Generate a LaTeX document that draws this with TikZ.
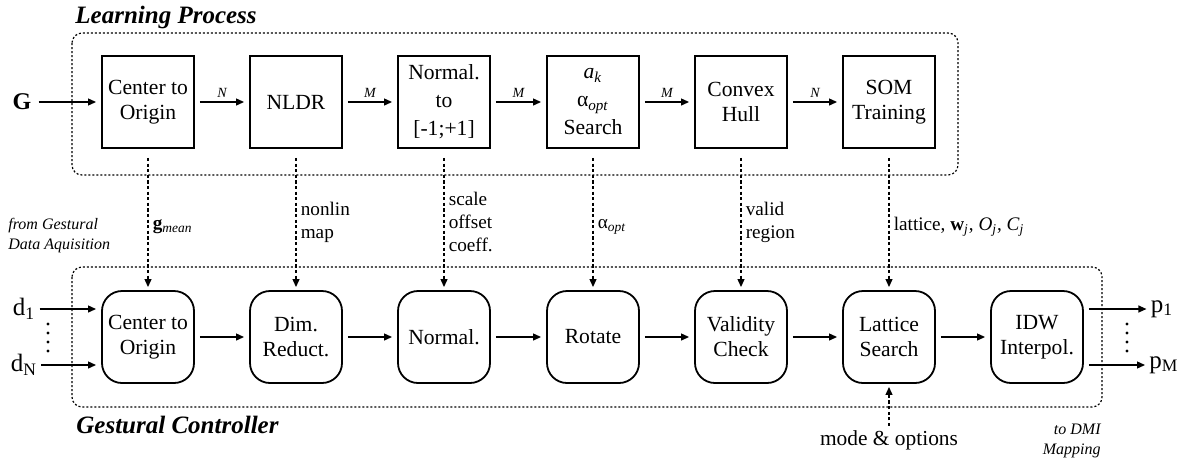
\documentclass[tikz,border=0pt]{standalone}
\usepackage{fontspec}
\setmainfont{Liberation Serif}
\usetikzlibrary{arrows.meta}

\begin{document}
\begin{tikzpicture}[x=0.5pt, y=-0.5pt,
    learnbox/.style={rectangle, draw=black, line width=0.9pt, minimum width=46pt, minimum height=46pt, inner sep=1pt, align=center, font=\fontsize{10.8}{12.6}\selectfont},
    ctrlbox/.style={learnbox, rounded corners=10pt},
    flow/.style={-{Triangle[length=4pt,width=3.4pt]}, line width=0.8pt, shorten <=2.5pt, shorten >=2.5pt},
    param/.style={flow, dash pattern=on 1.6pt off 1.2pt, shorten <=4.5pt, shorten >=1.5pt},
    group/.style={line width=0.6pt, dash pattern=on 1pt off 1pt, rounded corners=5pt},
    sizelbl/.style={font=\fontsize{7}{8}\selectfont\itshape, above, inner sep=2pt},
    paramlbl/.style={right, align=left, inner sep=2pt, font=\fontsize{9.6}{11.5}\selectfont},
    caption/.style={font=\fontsize{12.5}{15}\selectfont\bfseries\itshape, anchor=west, inner sep=0pt},
    note/.style={font=\fontsize{8}{10}\selectfont\itshape, inner sep=0pt},
    signal/.style={font=\fontsize{12.5}{15}\selectfont, inner sep=1pt}]
    \useasboundingbox (0,0) rectangle (1192,461);

    % learning process
    \draw[group] (72,33) rectangle (958,175);
    \node[caption] (learnlbl) at (75,17) {Learning Process};
    \node[font=\fontsize{12}{14}\selectfont\bfseries, inner sep=1pt] (G) at (22,102) {G};
    \node[learnbox] (lcenter) at (148,102) {Center to\\Origin};
    \node[learnbox] (nldr) at (296,102) {NLDR};
    \node[learnbox, font=\fontsize{10.8}{14}\selectfont] (lnorm) at (444,102) {Normal.\\to\\{}[-1;+1]};
    \node[learnbox, font=\fontsize{10.8}{14}\selectfont] (search) at (593,102) {\textit{a}\textsubscript{\textit{k}}\\α\textsubscript{\textit{opt}}\\Search};
    \node[learnbox] (hull) at (741,102) {Convex\\Hull};
    \node[learnbox] (som) at (889,102) {SOM\\Training};

    \draw[flow] (G) -- (lcenter);
    \draw[flow] (lcenter) -- node[sizelbl] {N} (nldr);
    \draw[flow] (nldr) -- node[sizelbl] {M} (lnorm);
    \draw[flow] (lnorm) -- node[sizelbl] {M} (search);
    \draw[flow] (search) -- node[sizelbl] {M} (hull);
    \draw[flow] (hull) -- node[sizelbl] {N} (som);

    % gestural controller
    \draw[group] (72,267) rectangle (1102,407);
    \node[caption] (ctrllbl) at (76,425) {Gestural Controller};
    \node[ctrlbox] (center) at (148,337) {Center to\\Origin};
    \node[ctrlbox] (dimred) at (296,337) {Dim.\\Reduct.};
    \node[ctrlbox] (normal) at (444,337) {Normal.};
    \node[ctrlbox] (rotate) at (593,337) {Rotate};
    \node[ctrlbox] (valid) at (741,337) {Validity\\Check};
    \node[ctrlbox] (lattice) at (889,337) {Lattice\\Search};
    \node[ctrlbox] (idw) at (1037,337) {IDW\\Interpol.};

    \draw[flow] (center) -- (dimred);
    \draw[flow] (dimred) -- (normal);
    \draw[flow] (normal) -- (rotate);
    \draw[flow] (rotate) -- (valid);
    \draw[flow] (valid) -- (lattice);
    \draw[flow] (lattice) -- (idw);

    % parameters passed down
    \draw[param] (lcenter) -- node[paramlbl, pos=0.55] {\textbf{g}\textsubscript{\textit{mean}}} (center);
    \draw[param] (nldr) -- node[paramlbl, pos=0.52] {nonlin\\map} (dimred);
    \draw[param] (lnorm) -- node[paramlbl, pos=0.52] {scale\\offset\\coeff.} (normal);
    \draw[param] (search) -- node[paramlbl, pos=0.55] {α\textsubscript{\textit{opt}}} (rotate);
    \draw[param] (hull) -- node[paramlbl, pos=0.52] {valid\\region} (valid);
    \draw[param] (som) -- node[paramlbl, pos=0.55] {lattice, \textbf{w}\textsubscript{\textit{j}}, \textit{O}\textsubscript{\textit{j}}, \textit{C}\textsubscript{\textit{j}}} (lattice);

    % inputs and outputs
    \node[note, anchor=west, align=left] (from) at (8,236) {from Gestural\\Data Aquisition};
    \node[signal] (d1) at (24,309) {d\textsubscript{1}};
    \node[signal] (dN) at (24,365) {d\textsubscript{N}};
    \draw[flow, shorten <=1pt] (d1) -- (d1 -| center.west);
    \draw[flow, shorten <=1pt] (dN) -- (dN -| center.west);
    \foreach \y in {324,333,342,351} \fill (48,\y) circle (0.8pt);

    \node[signal] (p1) at (1162,309) {p\textsubscript{1}};
    \node[signal] (pM) at (1164,365) {p\textsubscript{M}};
    \draw[flow, shorten >=1pt] (p1 -| idw.east) -- (p1);
    \draw[flow, shorten >=1pt] (pM -| idw.east) -- (pM);
    \foreach \y in {324,333,342,351} \fill (1127,\y) circle (0.8pt);

    \node[font=\fontsize{10.7}{12}\selectfont, inner sep=1pt] (mode) at (889,440) {mode \& options};
    \draw[param, shorten <=1pt] (mode) -- (lattice);
    \node[note, anchor=east, align=right] (dmi) at (1101,441) {to DMI\\Mapping};
\end{tikzpicture}
\end{document}
